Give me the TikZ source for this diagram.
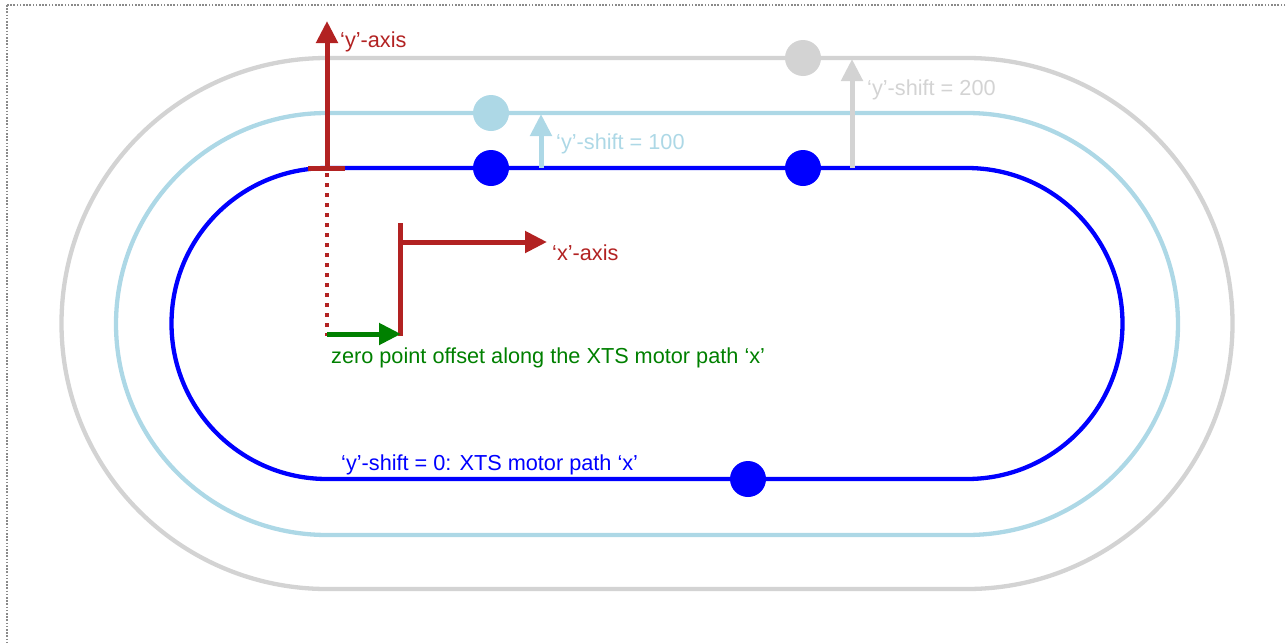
\documentclass[tikz,border=0pt]{standalone}
\usepackage{fontspec}
\setmainfont{Liberation Sans}
\usetikzlibrary{arrows.meta}
\definecolor{trkgray}{HTML}{D3D3D3}
\definecolor{trklblue}{HTML}{ADD8E6}
\definecolor{trkblue}{HTML}{0000FF}
\definecolor{axred}{HTML}{B22222}
\definecolor{offgreen}{HTML}{008000}
\definecolor{framegray}{HTML}{8A8A8A}
\begin{document}
\begin{tikzpicture}[x=1pt,y=-1pt,
  track/.style={line width=4.3pt},
  dot/.style={circle,inner sep=0pt,minimum size=36pt},
  lbl/.style={anchor=base west,inner sep=0pt,font=\fontsize{21.7}{26}\selectfont},
  tipped/.style={line width=5pt,-{Triangle[length=22pt,width=21pt]}}]
\useasboundingbox (0,0) rectangle (1287,643);
\draw[framegray,line width=1.1pt,dash pattern=on 1.6pt off 1.6pt] (7,5) rectangle (1300,660);
% tracks
\draw[track,trkgray] (327,58) -- (967,58) arc[start angle=90,end angle=-90,radius=265.5pt] -- (327,589) arc[start angle=270,end angle=90,radius=265.5pt] -- cycle;
\draw[track,trklblue] (327,113) -- (967,113) arc[start angle=90,end angle=-90,radius=211pt] -- (327,535) arc[start angle=270,end angle=90,radius=211pt] -- cycle;
\draw[track,trkblue] (327,168) -- (967,168) arc[start angle=90,end angle=-90,radius=155.5pt] -- (327,479) arc[start angle=270,end angle=90,radius=155.5pt] -- cycle;
% movers
\node[dot,fill=trkgray] (g1) at (803,58) {};
\node[dot,fill=trklblue] (l1) at (491,113) {};
\node[dot,fill=trkblue] (b1) at (491,168) {};
\node[dot,fill=trkblue] (b2) at (803,168) {};
\node[dot,fill=trkblue] (b3) at (748,479) {};
% shift arrows
\coordinate (s200a) at (852,168);
\coordinate (s200b) at (852,59);
\coordinate (s100a) at (541,168);
\coordinate (s100b) at (541,114);
\draw[tipped,trkgray] (s200a) -- (s200b);
\draw[tipped,trklblue] (s100a) -- (s100b);
\node[lbl,text=trkgray] (t200) at (867,95) {‘y’-shift = 200};
\node[lbl,text=trklblue] (t100) at (556,149) {‘y’-shift = 100};
% y axis
\coordinate (ybar1) at (308,168);
\coordinate (ybar2) at (345,168);
\coordinate (y0) at (327,168);
\coordinate (ytip) at (327,21);
\coordinate (ybot) at (327,336);
\draw[axred,line width=4pt,dash pattern=on 4pt off 6pt] (y0) ++(0,5) -- (ybot);
\draw[axred,line width=5pt] (ybar1) -- (ybar2);
\draw[tipped,axred] (y0) -- (ytip);
\node[lbl,text=axred] (tya) at (340,47) {‘y’-axis};
% x axis
\coordinate (xv1) at (400,223);
\coordinate (xv2) at (400,336);
\coordinate (xa0) at (400,242);
\coordinate (xtip) at (547,242);
\draw[axred,line width=5pt] (xv1) -- (xv2);
\draw[tipped,axred] (xa0) -- (xtip);
\node[lbl,text=axred] (txa) at (552,260) {‘x’-axis};
% offset
\coordinate (o0) at (327,334);
\coordinate (o1) at (401,334);
\draw[tipped,offgreen] (o0) -- (o1);
\node[lbl,text=offgreen] (toff) at (331,363) {zero point offset along the XTS motor path ‘x’};
% path label
\node[lbl,text=trkblue] (tpath) at (341,470) {‘y’-shift = 0: XTS motor path ‘x’};
\end{tikzpicture}
\end{document}
